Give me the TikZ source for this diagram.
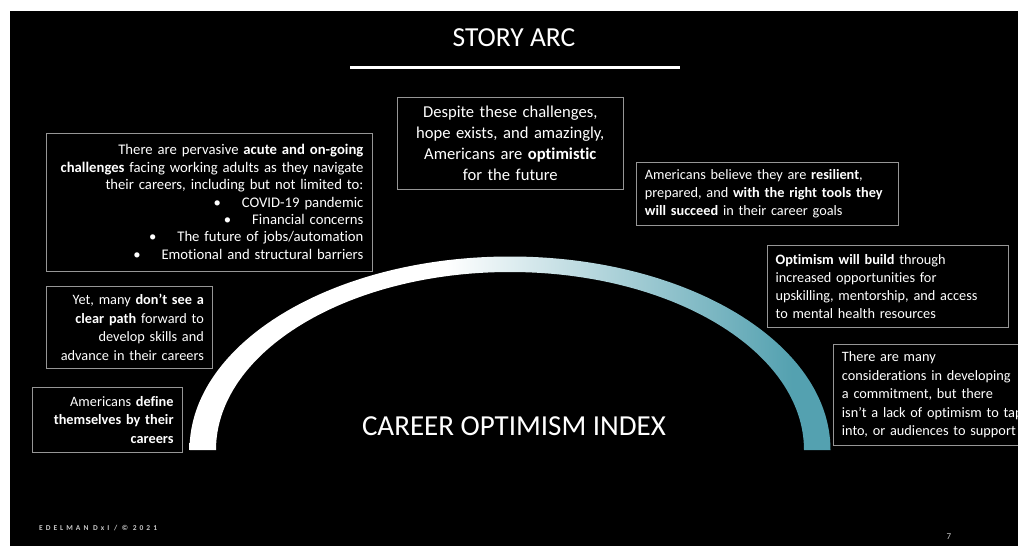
\documentclass[tikz,border=0pt]{standalone}
\usepackage{fontspec}
\setmainfont{Carlito}[Ligatures={TeX,NoCommon}]
\newfontfamily\footfont{Carlito}[LetterSpace=40]
\definecolor{arcteal}{RGB}{84,161,176}
\definecolor{boxline}{RGB}{150,150,150}
\definecolor{footgray}{RGB}{200,200,200}
% white on the left half, easing into teal towards the right foot
\pgfdeclarehorizontalshading{arcfade}{100bp}{color(0bp)=(white); color(45bp)=(white); color(72bp)=(arcteal); color(100bp)=(arcteal)}
\tikzset{
  msgbox/.style={draw=boxline, line width=0.8pt, text=white, inner xsep=8.5pt, inner ysep=0pt,
    anchor=north west, font=\fontsize{14.3}{18.5}\selectfont},
  heading/.style={text=white, inner sep=0pt}
}
\begin{document}
\hyphenpenalty=10000
\exhyphenpenalty=10000
\begin{tikzpicture}[x=1pt,y=-1pt]
\useasboundingbox (0,0) rectangle (1018,546);
\fill[white] (0,0) rectangle (1018,546);
\clip (0,0) rectangle (1018,546);
\fill[black] (10,11) rectangle (1018,546);

% title and rule
\node[heading, font=\fontsize{27.5}{30}\selectfont] (title) at (514,38) {STORY ARC};
\coordinate (ruleL) at (350,67);
\coordinate (ruleR) at (680,67);
\draw[white, line width=3pt] (ruleL) -- (ruleR);

% the arc
\shade[shading=arcfade] (189.5,450)
  arc[start angle=180, end angle=0, x radius=320.5pt, y radius=193.5pt]
  -- (804,450)
  arc[start angle=0, end angle=180, x radius=294pt, y radius=178pt]
  -- cycle;

\node[heading, font=\fontsize{29}{32}\selectfont] (index) at (514,426) {CAREER OPTIMISM INDEX};

% message boxes
\node[msgbox, minimum width=325.5pt, minimum height=138pt, text width=308.5pt, align=right,
  font=\fontsize{14.7}{17.4}\selectfont] (challenges) at (46,132.5)
  {There are pervasive \textbf{acute and on-going}\\
   \textbf{challenges} facing working adults as they navigate\\
   their careers, including but not limited to:\\
   \textbullet\hspace{21pt}COVID-19 pandemic\\
   \textbullet\hspace{21pt}Financial concerns\\
   \textbullet\hspace{21pt}The future of jobs/automation\\
   \textbullet\hspace{21pt}Emotional and structural barriers};

\node[msgbox, minimum width=166pt, minimum height=82.3pt, text width=149pt, align=right] (nopath) at (46,285.7)
  {Yet, many \textbf{don’t see a}\\
   \textbf{clear path} forward to\\
   develop skills and\\
   advance in their careers};

\node[msgbox, minimum width=150pt, minimum height=64.7pt, text width=133pt, align=right] (define) at (31.7,387)
  {Americans \textbf{define}\\
   \textbf{themselves by their}\\
   \textbf{careers}};

\node[msgbox, minimum width=226.3pt, minimum height=92.3pt, text width=209.3pt, align=center,
  font=\fontsize{16.6}{20.7}\selectfont] (hope) at (396.7,96.7)
  {Despite these challenges,\\
   hope exists, and amazingly,\\
   Americans are \textbf{optimistic}\\
   for the future};

\node[msgbox, minimum width=261.7pt, minimum height=63.3pt, text width=244.7pt, align=left,
  font=\fontsize{14.3}{18.3}\selectfont] (resilient) at (636,161.7)
  {Americans believe they are \textbf{resilient},\\
   prepared, and \textbf{with the right tools they}\\
   \textbf{will succeed} in their career goals};

\node[msgbox, minimum width=241.3pt, minimum height=81.7pt, text width=224.3pt, align=left,
  font=\fontsize{14.3}{18.1}\selectfont] (build) at (766.7,245)
  {\textbf{Optimism will build} through\\
   increased opportunities for\\
   upskilling, mentorship, and access\\
   to mental health resources};

\node[msgbox, minimum width=210pt, minimum height=101pt, text width=193pt, align=left] (support) at (833,344)
  {There are many\\
   considerations in developing\\
   a commitment, but there\\
   isn’t a lack of optimism to tap\\
   into, or audiences to support};

% footer
\node[text=footgray, inner sep=0pt, anchor=west, font=\footfont\bfseries\fontsize{7.5}{9}\selectfont] (credit) at (39,528)
  {EDELMAN DxI / © 2021};
\node[text=footgray, inner sep=0pt, font=\fontsize{9}{10}\selectfont] (page) at (949,537) {7};
\end{tikzpicture}
\end{document}
